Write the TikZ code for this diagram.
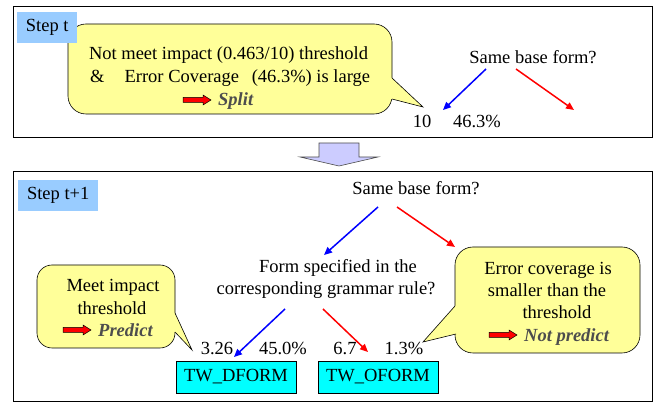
\documentclass[tikz,border=0pt]{standalone}
\usepackage{fontspec}
\setmainfont{Liberation Serif}
\newfontfamily\timesfont{Liberation Serif}
\usetikzlibrary{arrows.meta}
\definecolor{stepblue}{HTML}{99CCFF}
\definecolor{calloutyellow}{HTML}{FFFF99}
\definecolor{boxcyan}{HTML}{00FFFF}
\definecolor{blockfill}{HTML}{CCCCFF}
\definecolor{emgray}{HTML}{4D4D4D}
\newcommand{\myredarrow}[2]{%
  \filldraw[fill=red, draw=black, line width=0.5pt]
    (#1,#2) ++(0,-2.5) -- ++(20,0) -- ++(0,-2.5) -- ++(8,5) -- ++(-8,5)
    -- ++(0,-2.5) -- ++(-20,0) -- cycle;}
\begin{document}
\begin{tikzpicture}[x=1pt,y=-1pt,
  every node/.style={inner sep=0pt, font=\timesfont\fontsize{18.5}{22}\selectfont},
  txt/.style={anchor=base},
  frame/.style={draw=black, line width=1pt},
  stepbox/.style={fill=stepblue, anchor=north west, minimum height=31pt},
  callout/.style={fill=calloutyellow, draw=black, line width=0.6pt},
  yesarrow/.style={draw=blue, line width=1.5pt, -{Triangle[length=8pt,width=7pt]}},
  noarrow/.style={draw=red, line width=1.5pt, -{Triangle[length=8pt,width=7pt]}},
  leafbox/.style={draw=black, fill=boxcyan, line width=0.6pt, minimum width=120pt, minimum height=32pt},
  emtext/.style={anchor=base west, text=emgray, font=\timesfont\fontsize{18.5}{22}\selectfont\bfseries\itshape}
]
\useasboundingbox (0,0) rectangle (657,403);

% frames
\draw[frame] (13,7) rectangle (652,138);
\draw[frame] (13,172) rectangle (652,402);

% block arrow between steps
\filldraw[fill=blockfill, draw=black!70, line width=0.6pt]
  (319,143) -- (359,143) -- (359,157) -- (378,157) -- (339,166) -- (300,157) -- (319,157) -- cycle;

% ---------- Step t ----------
\draw[callout, rounded corners=18pt] (68,24) rectangle (392,114);
\fill[calloutyellow] (392,78) -- (423,107) -- (392,99) -- (385,99) -- (385,78) -- cycle;
\draw[black, line width=0.6pt, line join=miter] (392,78) -- (423,107) -- (392,99);

\node[stepbox, minimum width=60pt] (st) at (17,12) {Step t};

\node[txt] (c1a) at (228.5,60) {Not meet impact (0.463/10) threshold};
\node[anchor=base west] (c1b) at (90,83) {\&\hspace{20pt}Error Coverage\hspace{8pt} (46.3\%) is large};
\myredarrow{183}{100}
\node[emtext] (split) at (218,106) {Split};

\node[txt] (q1) at (533,64) {Same base form?};
\coordinate (q1l) at (486,69);
\coordinate (q1r) at (516,69);
\coordinate (q1lend) at (443,110);
\coordinate (q1rend) at (574,110);
\draw[yesarrow] (q1l) -- (q1lend);
\draw[noarrow] (q1r) -- (q1rend);
\node[txt] (n10) at (422,128) {10};
\node[txt] (n463) at (477,128) {46.3\%};

% ---------- Step t+1 ----------
\node[stepbox, minimum width=80pt] (st1) at (18,180) {Step t+1};

% left callout
\draw[callout, rounded corners=15pt] (37,265) rectangle (175,348);
\fill[calloutyellow] (175,313) -- (192,350) -- (175,332) -- (169,332) -- (169,313) -- cycle;
\draw[black, line width=0.6pt, line join=miter] (175,313) -- (192,350) -- (175,332);
\node[txt] (l1) at (113,292) {Meet impact};
\node[txt] (l2) at (112,315) {threshold};
\myredarrow{63}{330}
\node[emtext] (pred) at (98,337) {Predict};

% right callout
\draw[callout, rounded corners=18pt] (455,247) rectangle (640,353);
\fill[calloutyellow] (455,306) -- (423,342) -- (456,334) -- (462,334) -- (462,306) -- cycle;
\draw[black, line width=0.6pt, line join=miter] (455,306) -- (423,342) -- (456,334);
\node[txt] (r1) at (548,275) {Error coverage is};
\node[txt] (r2) at (547,297) {smaller than the};
\node[txt] (r3) at (557,319) {threshold};
\myredarrow{489}{335}
\node[emtext] (npred) at (524,342) {Not predict};

% tree
\node[txt] (q2) at (416,195) {Same base form?};
\coordinate (q2l) at (378,207);
\coordinate (q2r) at (397,207);
\coordinate (q2lend) at (324,255);
\coordinate (q2rend) at (455,247);
\draw[yesarrow] (q2l) -- (q2lend);
\draw[noarrow] (q2r) -- (q2rend);

\node[txt] (q3a) at (338,273) {Form specified in the};
\node[txt] (q3b) at (326,295) {corresponding grammar rule?};
\coordinate (q3l) at (285,309);
\coordinate (q3r) at (323,309);

\node[leafbox] (dform) at (236,377) {TW\_DFORM};
\node[leafbox] (oform) at (378,377) {TW\_OFORM};
\coordinate (dformin) at (234,357);
\coordinate (oformin) at (368,352);
\draw[yesarrow] (q3l) -- (dformin);
\draw[noarrow] (q3r) -- (oformin);

\node[txt] (v1) at (217,355) {3.26};
\node[txt] (v2) at (283,355) {45.0\%};
\node[txt] (v3) at (345,355) {6.7};
\node[txt] (v4) at (404,355) {1.3\%};
\end{tikzpicture}
\end{document}
